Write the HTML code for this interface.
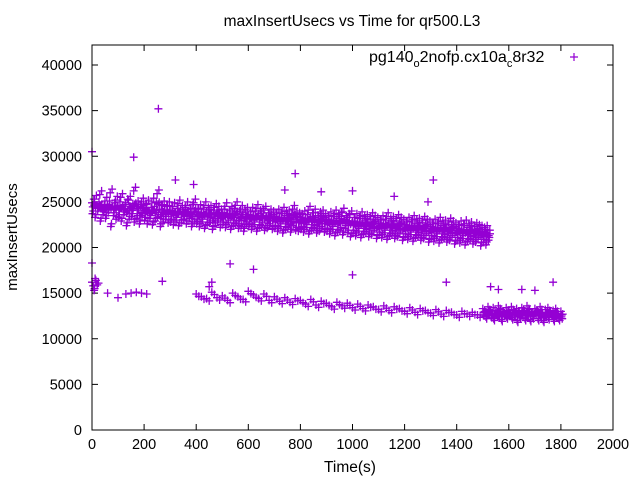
<!DOCTYPE html>
<html><head><meta charset="utf-8"><style>
body{margin:0;background:#fff}
svg{display:block;font-family:"Liberation Sans",sans-serif}
</style></head><body>
<svg id="chart" width="640" height="480" viewBox="0 0 640 480">
<rect x="0" y="0" width="640" height="480" fill="#fff"/>
<text x="352" y="26" text-anchor="middle" font-size="15.5">maxInsertUsecs vs Time for qr500.L3</text>
<g id="axes"></g>
<g id="pts"></g>
<rect x="92" y="45" width="521" height="385" fill="none" stroke="#000" stroke-width="1"/>
<text x="17" y="237" transform="rotate(-90 17 237)" text-anchor="middle" font-size="15">maxInsertUsecs</text>
<text x="350" y="472" text-anchor="middle" font-size="15.5">Time(s)</text>
<g>
<text x="369" y="62" font-size="16">pg140<tspan font-size="11" dy="5">o</tspan><tspan dy="-5">2nofp.cx10a</tspan><tspan font-size="11" dy="5">c</tspan><tspan dy="-5">8r32</tspan></text>
<path d="M570 57h8M574 53v8" stroke="#9400d3" stroke-width="1.2"/>
</g>
</svg>
<script>
const xTicks=[0,200,400,600,800,1000,1200,1400,1600,1800,2000];
const yTicks=[0,5000,10000,15000,20000,25000,30000,35000,40000];
const upperT=[0,10,20,30,40,50,60,70,80,90,100,110,120,130,140,150,160,170,180,190,200,210,220,230,240,250,260,270,280,290,300,310,320,330,340,350,360,370,380,390,400,410,420,430,440,450,460,470,480,490,500,510,520,530,540,550,560,570,580,590,600,610,620,630,640,650,660,670,680,690,700,710,720,730,740,750,760,770,780,790,800,810,820,830,840,850,860,870,880,890,900,910,920,930,940,950,960,970,980,990,1000,1010,1020,1030,1040,1050,1060,1070,1080,1090,1100,1110,1120,1130,1140,1150,1160,1170,1180,1190,1200,1210,1220,1230,1240,1250,1260,1270,1280,1290,1300,1310,1320,1330,1340,1350,1360,1370,1380,1390,1400,1410,1420,1430,1440,1450,1460,1470,1480,1490,1500,1510,1520];
const upperV1=[24900,25300,24600,25800,24200,25100,24700,26000,24500,25200,24600,25500,24300,24900,25200,24400,26200,24700,24100,25000,24300,24800,24000,25000,24500,25900,24200,24700,24100,24600,24100,24500,23900,24800,24200,24000,24600,23800,24300,24900,23900,24300,23800,24600,24000,24200,23700,24400,24100,23800,23800,24500,23700,24100,23900,24600,23600,24200,23800,24000,23600,24000,23500,24300,23700,23900,24100,23400,23800,23600,23400,23800,23300,24000,23500,23700,23200,24200,23600,23400,23300,23600,23200,24100,23400,23800,23100,23500,23700,23300,23100,23500,23000,23700,23200,23400,23900,23100,23300,23600,22900,23300,22800,23500,23000,23200,22700,23400,23100,22900,22700,23100,22600,23400,22800,23000,22500,23200,22900,22700,22500,22900,22400,23100,22600,22800,22300,23000,22700,22500,22300,22700,22200,22900,22400,22600,22100,22800,22500,22300,22100,22500,22000,22600,22200,22400,21900,22300,22100,22000,21800,22000,21500];
const upperV2=[24000,23600,24300,23200,23900,23500,24100,22600,23800,23400,23600,23200,23900,22700,23400,23700,23100,23500,22900,23800,23300,22900,23500,22800,23200,23600,22600,23100,23400,23000,23100,22800,23300,22700,23000,23400,22900,23200,22600,23100,22900,22600,23100,22400,22800,23000,22300,22700,23200,22500,22800,22500,23000,22300,22700,22900,22400,22600,22100,22800,22600,22300,22800,22100,22500,22700,22200,22400,22900,22300,22400,22100,22600,21900,22300,22500,22000,22700,22200,22100,22300,22000,22500,21800,22200,22400,21900,22100,22600,22000,22100,21800,22300,21600,22000,22200,21700,22400,21900,21500,21900,21600,22100,21400,21800,22000,21500,21700,22200,21300,21700,21400,21900,21200,21600,21800,21300,21500,22000,21100,21500,21200,21700,21000,21400,21600,21100,21300,21800,20900,21300,21000,21500,20800,21200,21400,20900,21100,21600,20700,21100,20800,21300,20600,21000,21200,20700,20900,21400,20500,20900,20600,21100];
const lowerT=[0,5,8,10,12,15,20,25,60,100,130,150,170,190,210,400,420,440,460,480,500,520,540,560,580,600,620,640,660,680,700,720,740,760,780,800,820,840,860,880,900,920,940,960,980,1000,1020,1040,1060,1080,1100,1120,1140,1160,1180,1200,1220,1240,1260,1280,1300,1320,1340,1360,1380,1400,1420,1440,1460,1480];
const lowerV=[16200,15800,15300,15500,16600,16400,15900,16100,15000,14500,14900,15000,15100,15000,14900,14900,14600,14400,15100,14500,14700,14200,15000,14600,14300,15200,14800,14400,14900,14200,14600,14100,14500,14000,14400,14200,13800,14300,13700,14100,13900,13500,14000,13600,13900,13400,13800,13300,13700,13500,13200,13600,13100,13500,13300,13000,13400,12900,13300,13100,12800,13200,12700,13100,12900,12600,13000,12700,12900,12600];
const denseT=[1500,1510,1520,1530,1540,1550,1560,1570,1580,1590,1600,1610,1620,1630,1640,1650,1660,1670,1680,1690,1700,1710,1720,1730,1740,1750,1760,1770,1780,1790,1800];
const denseV1=[13300,12900,13500,13100,13400,12800,13600,13200,13000,13400,12900,13500,13100,13300,12800,13400,13000,13600,13200,12900,13300,13100,13500,12800,13200,13400,12900,13100,13300,12700,13000];
const denseV2=[12500,12200,12700,12300,12000,12600,12400,11900,12500,12200,12600,12100,12400,11800,12300,12500,12000,12400,11900,12200,12600,12000,12300,11800,12400,12100,12500,11900,12300,12000,12200];
const outT=[0,160,255,320,390,780,1000,1160,1310,0,270,530,620,1000,1360,1770,1290,880,740,1560,1650,1700,1530,450,460];
const outV=[30500,29900,35200,27400,26900,28100,26200,25600,27400,18300,16300,18200,17600,17000,16200,16200,25000,26100,26300,15400,15400,15300,15700,15700,16200];

const NS='http://www.w3.org/2000/svg';
const X0=92,X1=613,Y0=430,Y1=45,XMAX=2000,YMAX=40000*385/365;
const xs=v=>X0+(X1-X0)*v/XMAX;
const ys=v=>Y0-(Y0-Y1)*v/YMAX;
const axes=document.getElementById('axes');
const pts=document.getElementById('pts');
function mk(tag,attrs,parent){const e=document.createElementNS(NS,tag);for(const k in attrs)e.setAttribute(k,attrs[k]);parent.appendChild(e);return e;}
xTicks.forEach(t=>{
  const x=xs(t);
  const tk=mk('path',{d:`M${x} ${Y0}v-6M${x} ${Y1}v6`,stroke:'#000','stroke-width':1},axes);
  
  
  const lb=mk('text',{x:x,y:449,'text-anchor':'middle','font-size':14.5},axes);
  lb.textContent=t;
  
  
});
yTicks.forEach(t=>{
  const y=ys(t);
  const tk=mk('path',{d:`M${X0} ${y}h6M${X1} ${y}h-6`,stroke:'#000','stroke-width':1},axes);
  
  
  const lb=mk('text',{x:82,y:y+5,'text-anchor':'end','font-size':14.5},axes);
  lb.textContent=t;
  
  
});
let d='';
function add(t,v){const x=xs(t),y=ys(v);d+=`M${(x-4).toFixed(1)} ${y.toFixed(1)}h8M${x.toFixed(1)} ${(y-4).toFixed(1)}v8`;}
upperT.forEach((t,i)=>{
  add(t,upperV1[i]);add(t+5,upperV2[i]);
  add(t+3,(upperV1[i]+upperV2[i])/2);
  add(t+7,upperV1[i]+400);add(t+2,upperV2[i]-300);
  add(t+8,(upperV1[i]+upperV2[i])/2+200);
});
lowerT.forEach((t,i)=>{add(t,lowerV[i]);if(t>=400)add(t+10,lowerV[i]-250);});
denseT.forEach((t,i)=>{
  add(t,denseV1[i]);add(t+5,denseV2[i]);
  add(t+3,(denseV1[i]+denseV2[i])/2);add(t+7,denseV1[i]-300);add(t+2,denseV2[i]+200);
});
outT.forEach((t,i)=>add(t,outV[i]));
const p=mk('path',{d:d,stroke:'#9400d3','stroke-width':1.3,fill:'none'},pts);


</script>
</body></html>
